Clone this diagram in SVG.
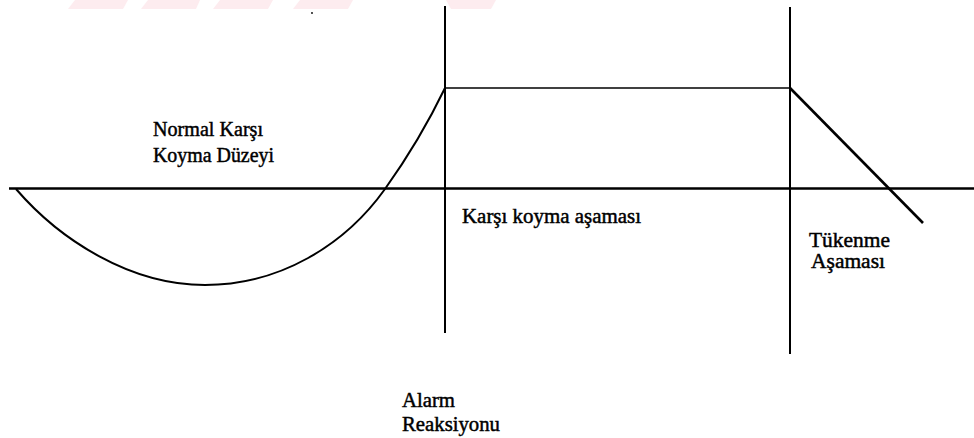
<svg xmlns="http://www.w3.org/2000/svg" width="974" height="438" viewBox="0 0 974 438">
<style>
.ln{stroke:#000;fill:none;stroke-linecap:butt}
text{font-family:'Liberation Serif','DejaVu Serif','Times New Roman',serif;font-size:20px;fill:#000;stroke:#000;stroke-width:0.45}
.wm{fill:#fdecef}
</style>
<g id="watermark">
<polygon class="wm" points="75,0 128,0 123,9 68,9"/>
<polygon class="wm" points="148,0 200,0 196,9 141,9"/>
<polygon class="wm" points="220,0 273,0 268,9 213,9"/>
<polygon class="wm" points="300,0 353,0 348,9 293,9"/>
<polygon class="wm" points="446,0 496,0 491,9 451,9"/>
</g>
<g id="connectors">
<line class="ln" x1="9" y1="188.5" x2="974" y2="188.5" stroke-width="2.5"/>
<line class="ln" x1="445" y1="6" x2="445" y2="333" stroke-width="2"/>
<line class="ln" x1="790" y1="7" x2="790" y2="354" stroke-width="2"/>
<line class="ln" x1="445" y1="88" x2="790" y2="88" stroke-width="1.6"/>
<path class="ln" stroke-width="2" d="M16,189 C60,240 130,285 205,285 C280,285 345,245 385,189 C410,154 432,115 445,88"/>
<line class="ln" x1="790" y1="88" x2="923" y2="223" stroke-width="2.6"/>
<circle cx="312" cy="13" r="0.9" fill="#000"/>
</g>
<g id="normal">
<text x="153" y="136" textLength="110" lengthAdjust="spacingAndGlyphs">Normal Karşı</text>
<text x="153" y="162" textLength="121" lengthAdjust="spacingAndGlyphs">Koyma Düzeyi</text>
</g>
<g id="karsi">
<text x="462" y="223" textLength="179" lengthAdjust="spacingAndGlyphs">Karşı koyma aşaması</text>
</g>
<g id="tukenme">
<text x="809" y="247" textLength="81" lengthAdjust="spacingAndGlyphs">Tükenme</text>
<text x="811" y="268" textLength="74" lengthAdjust="spacingAndGlyphs">Aşaması</text>
</g>
<g id="alarm">
<text x="402" y="407" textLength="53" lengthAdjust="spacingAndGlyphs">Alarm</text>
<text x="402" y="431" textLength="98" lengthAdjust="spacingAndGlyphs">Reaksiyonu</text>
</g>
</svg>
